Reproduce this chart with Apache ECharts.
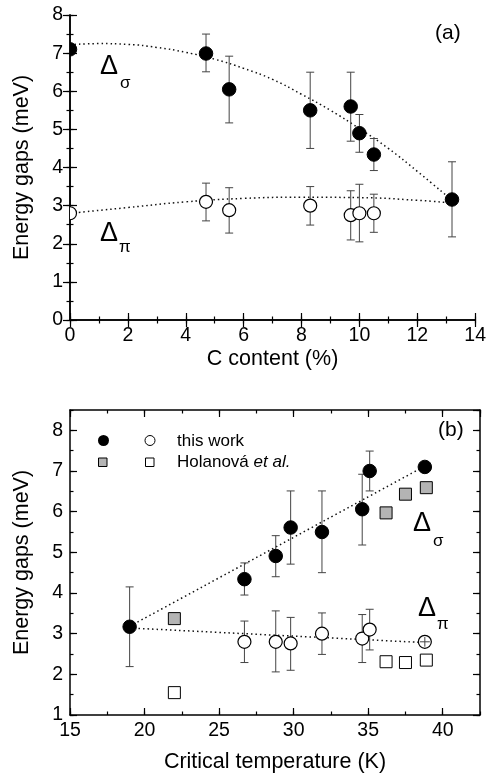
<!DOCTYPE html>
<html>
<head>
<meta charset="utf-8">
<script src="https://cdn.jsdelivr.net/npm/echarts@6/dist/echarts.min.js"></script>
<style>html,body{margin:0;padding:0;background:#fff;}#c{width:489px;height:776px;}</style>
</head>
<body>
<div id="c"></div>
<script>
// ---------- Panel (a): gaps vs C content ----------
const cContentSigma = [0, 4.7, 5.5, 8.3, 9.7, 10.0, 10.5, 13.2];
const sigmaA   = [7.10, 6.99, 6.05, 5.50, 5.60, 4.90, 4.34, 3.16];
const sigmaALo = [7.10, 6.51, 5.17, 4.50, 4.69, 4.40, 3.92, 2.18];
const sigmaAHi = [7.10, 7.50, 6.92, 6.50, 6.50, 5.39, 4.76, 4.15];
const cContentPi = [0, 4.7, 5.5, 8.3, 9.7, 10.0, 10.5];
const piA   = [2.80, 3.10, 2.88, 3.00, 2.75, 2.80, 2.80];
const piALo = [2.80, 2.60, 2.28, 2.49, 2.10, 2.05, 2.30];
const piAHi = [2.80, 3.59, 3.47, 3.50, 3.39, 3.56, 3.30];
// dotted guide curves
const fitAX     = [0, 1, 2, 3, 4, 5, 6, 7, 8, 9, 10, 11, 12, 13.2];
const fitASigma = [7.22, 7.25, 7.23, 7.15, 7.02, 6.84, 6.60, 6.31, 5.92, 5.50, 5.02, 4.50, 3.90, 3.14];
const fitAPiX   = [0, 2, 4, 6, 8, 10, 12, 13.2];
const fitAPi    = [2.80, 2.95, 3.10, 3.19, 3.22, 3.21, 3.14, 3.07];

// ---------- Panel (b): gaps vs critical temperature ----------
const tcSigma  = [19.0, 26.7, 28.8, 29.8, 31.9, 34.6, 35.1, 38.8];
const sigmaB   = [3.17, 4.34, 4.91, 5.61, 5.50, 6.06, 7.00, 7.10];
const sigmaBLo = [2.19, 3.95, 4.40, 4.71, 4.50, 5.18, 6.51, 7.10];
const sigmaBHi = [4.15, 4.74, 5.41, 6.51, 6.51, 6.92, 7.49, 7.10];
const tcPi  = [26.7, 28.8, 29.8, 31.9, 34.6, 35.1, 38.8];
const piB   = [2.80, 2.80, 2.76, 3.00, 2.88, 3.10, 2.80];
const piBLo = [2.29, 2.06, 2.10, 2.49, 2.29, 2.60, 2.68];
const piBHi = [3.31, 3.56, 3.40, 3.51, 3.47, 3.60, 2.92];
const tcHolanova    = [22.0, 36.2, 37.5, 38.9];
const sigmaHolanova = [3.37, 5.97, 6.43, 6.59];
const piHolanova    = [1.55, 2.31, 2.29, 2.35];
const fitBX     = [19.0, 38.8];
const fitBSigma = [3.18, 7.12];
const fitBPi    = [3.14, 2.78];

const FONT = 'Liberation Sans, Arial, sans-serif';
const zip = (xs, ys) => xs.map((x, i) => [x, ys[i]]);
const zipErr = (xs, ys, lo, hi) => xs.map((x, i) => [x, ys[i], lo[i], hi[i]]);

function errRender(params, api) {
  const x = api.value(0), lo = api.value(2), hi = api.value(3);
  if (hi - lo < 1e-9) return { type: 'group', children: [] };
  const p1 = api.coord([x, lo]), p2 = api.coord([x, hi]);
  const small = (p1[1] - p2[1]) < 12;
  const cap = 4;
  const st = { stroke: '#444', lineWidth: 1 };
  const ch = [{ type: 'line', shape: { x1: p1[0], y1: p1[1], x2: p2[0], y2: p2[1] }, style: st }];
  if (small) {
    const c = api.coord([x, api.value(1)]);
    ch.push({ type: 'line', shape: { x1: c[0] - 5, y1: c[1], x2: c[0] + 5, y2: c[1] }, style: st });
  } else {
    ch.push({ type: 'line', shape: { x1: p1[0] - cap, y1: p1[1], x2: p1[0] + cap, y2: p1[1] }, style: st });
    ch.push({ type: 'line', shape: { x1: p2[0] - cap, y1: p2[1], x2: p2[0] + cap, y2: p2[1] }, style: st });
  }
  return { type: 'group', children: ch };
}

function axesFor(gridIndex, xmin, xmax, xint, xminor, ymin, ymax, yint, yminor, xname, ynameGap, xnameGap) {
  const line = { show: true, lineStyle: { color: '#000', width: 1.5 } };
  const lab = { color: '#000', fontSize: 19.5, fontFamily: FONT };
  const nameStyle = { color: '#000', fontSize: 21.5, fontFamily: FONT };
  const base = { gridIndex, splitLine: { show: false } };
  const tick = (len) => ({ inside: true, length: len, lineStyle: { color: '#000', width: 1.2 } });
  const xs = [
    Object.assign({}, base, { type: 'value', position: 'bottom', min: xmin, max: xmax, interval: xint,
      axisLine: line, axisTick: tick(7),
      axisLabel: Object.assign({ margin: 6, showMaxLabel: (xmax - xmin) % xint === 0 }, lab),
      name: xname, nameLocation: 'middle', nameGap: xnameGap, nameTextStyle: nameStyle }),
    Object.assign({}, base, { type: 'value', position: 'top', min: xmin, max: xmax, interval: xint,
      axisLine: line, axisTick: tick(7), axisLabel: { show: false } }),
    Object.assign({}, base, { type: 'value', position: 'bottom', min: xmin, max: xmax, interval: xminor,
      axisLine: { show: false }, axisTick: tick(3.5), axisLabel: { show: false } }),
    Object.assign({}, base, { type: 'value', position: 'top', min: xmin, max: xmax, interval: xminor,
      axisLine: { show: false }, axisTick: tick(3.5), axisLabel: { show: false } })
  ];
  const ys = [
    Object.assign({}, base, { type: 'value', position: 'left', min: ymin, max: ymax, interval: yint,
      axisLine: line, axisTick: tick(7),
      axisLabel: Object.assign({ margin: 7, showMaxLabel: (ymax - ymin) % yint === 0 }, lab),
      name: 'Energy gaps (meV)', nameLocation: 'middle', nameGap: ynameGap, nameTextStyle: nameStyle }),
    Object.assign({}, base, { type: 'value', position: 'right', min: ymin, max: ymax, interval: yint,
      axisLine: line, axisTick: tick(7), axisLabel: { show: false } }),
    Object.assign({}, base, { type: 'value', position: 'left', min: ymin, max: ymax, interval: yminor,
      axisLine: { show: false }, axisTick: tick(3.5), axisLabel: { show: false } }),
    Object.assign({}, base, { type: 'value', position: 'right', min: ymin, max: ymax, interval: yminor,
      axisLine: { show: false }, axisTick: tick(3.5), axisLabel: { show: false } })
  ];
  return { xs, ys };
}

const A = axesFor(0, 0, 14, 2, 1, 0, 8, 1, 0.5, 'C content (%)', 37, 28);
const B = axesFor(1, 15, 42.5, 5, 2.5, 1, 8.5, 1, 0.5, 'Critical temperature (K)', 37, 36);

const dotted = { color: '#111', width: 1.5, type: [1.5, 3] };

// markers drawn as custom shapes so that they are clipped at the frame
function markers(xi, yi, data, shape, size, fill, stroke, lw, z) {
  return {
    type: 'custom', xAxisIndex: xi, yAxisIndex: yi, data, clip: true, z: z || 10,
    silent: true, animation: false, encode: { x: 0, y: 1 },
    renderItem: function (params, api) {
      const c = api.coord([api.value(0), api.value(1)]);
      const style = { fill, stroke, lineWidth: lw };
      if (shape === 'circle') {
        return { type: 'circle', shape: { cx: c[0], cy: c[1], r: size / 2 }, style };
      }
      return { type: 'rect', shape: { x: c[0] - size / 2, y: c[1] - size / 2, width: size, height: size }, style };
    }
  };
}
function fit(xi, yi, data) {
  return { type: 'line', xAxisIndex: xi, yAxisIndex: yi, data, smooth: true, symbol: 'none',
    lineStyle: dotted, z: 3, silent: true, animation: false, clip: true };
}
function errs(xi, yi, data, z) {
  return { type: 'custom', xAxisIndex: xi, yAxisIndex: yi, data, renderItem: errRender,
    z: z || 4, silent: true, animation: false, clip: false, encode: { x: 0, y: [1, 2, 3] } };
}

const option = {
  backgroundColor: '#fff',
  animation: false,
  grid: [
    { left: 70, top: 15, width: 410, height: 305 },
    { left: 70, top: 410, width: 410, height: 305 }
  ],
  xAxis: A.xs.concat(B.xs),
  yAxis: A.ys.concat(B.ys),
  series: [
    fit(0, 0, zip(fitAX, fitASigma)),
    fit(0, 0, zip(fitAPiX, fitAPi)),
    errs(0, 0, zipErr(cContentSigma, sigmaA, sigmaALo, sigmaAHi)),
    errs(0, 0, zipErr(cContentPi, piA, piALo, piAHi)),
    markers(0, 0, zip(cContentSigma, sigmaA), 'circle', 13.5, '#000', '#000', 1),
    markers(0, 0, zip(cContentPi, piA), 'circle', 13, '#fff', '#000', 1.2),

    fit(4, 4, zip(fitBX, fitBSigma)),
    fit(4, 4, zip(fitBX, fitBPi)),
    errs(4, 4, zipErr(tcSigma, sigmaB, sigmaBLo, sigmaBHi)),
    errs(4, 4, zipErr(tcPi, piB, piBLo, piBHi)),
    markers(4, 4, zip(tcHolanova, sigmaHolanova), 'rect', 12, '#b4b4b4', '#000', 1),
    markers(4, 4, zip(tcHolanova, piHolanova), 'rect', 12, '#fff', '#000', 1),
    markers(4, 4, zip(tcSigma, sigmaB), 'circle', 13.5, '#000', '#000', 1),
    markers(4, 4, zip(tcPi, piB), 'circle', 13, '#fff', '#000', 1.2),
    errs(4, 4, zipErr([tcPi[6]], [piB[6]], [piBLo[6]], [piBHi[6]]), 12)
  ],
  graphic: [
    // panel (a) annotations
    { type: 'text', left: 435, top: 23, style: { text: '(a)', font: '21px ' + FONT, fill: '#000' } },
    { type: 'text', x: 100, y: 53, style: { text: 'Δ', font: '27px ' + FONT, fill: '#000' } },
    { type: 'text', x: 120, y: 75, style: { text: 'σ', font: '17px ' + FONT, fill: '#000' } },
    { type: 'text', x: 100, y: 220, style: { text: 'Δ', font: '27px ' + FONT, fill: '#000' } },
    { type: 'text', x: 119, y: 239, style: { text: 'π', font: '17px ' + FONT, fill: '#000' } },
    // panel (b) annotations
    { type: 'text', left: 438, top: 420, style: { text: '(b)', font: '21px ' + FONT, fill: '#000' } },
    { type: 'text', x: 413, y: 510, style: { text: 'Δ', font: '27px ' + FONT, fill: '#000' } },
    { type: 'text', x: 433, y: 533, style: { text: 'σ', font: '17px ' + FONT, fill: '#000' } },
    { type: 'text', x: 418, y: 595, style: { text: 'Δ', font: '27px ' + FONT, fill: '#000' } },
    { type: 'text', x: 437, y: 616, style: { text: 'π', font: '17px ' + FONT, fill: '#000' } },
    // legend
    { type: 'circle', shape: { cx: 103.5, cy: 440.5, r: 5.5 }, style: { fill: '#000' }, z: 10 },
    { type: 'circle', shape: { cx: 150, cy: 440.5, r: 5 }, style: { fill: '#fff', stroke: '#000', lineWidth: 1 }, z: 10 },
    { type: 'rect', shape: { x: 98.5, y: 458, width: 8.5, height: 8.5 }, style: { fill: '#b4b4b4', stroke: '#000', lineWidth: 1 }, z: 10 },
    { type: 'rect', shape: { x: 145.5, y: 458, width: 8.5, height: 8.5 }, style: { fill: '#fff', stroke: '#000', lineWidth: 1 }, z: 10 },
    { type: 'text', x: 177, y: 441, style: { text: 'this work', font: '17px ' + FONT, fill: '#000', verticalAlign: 'middle' }, z: 10 },
    { type: 'text', x: 177, y: 462, z: 10, style: {
        text: '{n|Holanová }{i|et al.}', verticalAlign: 'middle', fill: '#000',
        rich: { n: { fontSize: 17, fontFamily: FONT }, i: { fontSize: 17, fontFamily: FONT, fontStyle: 'italic' } } } }
  ]
};

const chart = echarts.init(document.getElementById('c'), null, { renderer: 'canvas' });
chart.setOption(option);
</script>
</body>
</html>
